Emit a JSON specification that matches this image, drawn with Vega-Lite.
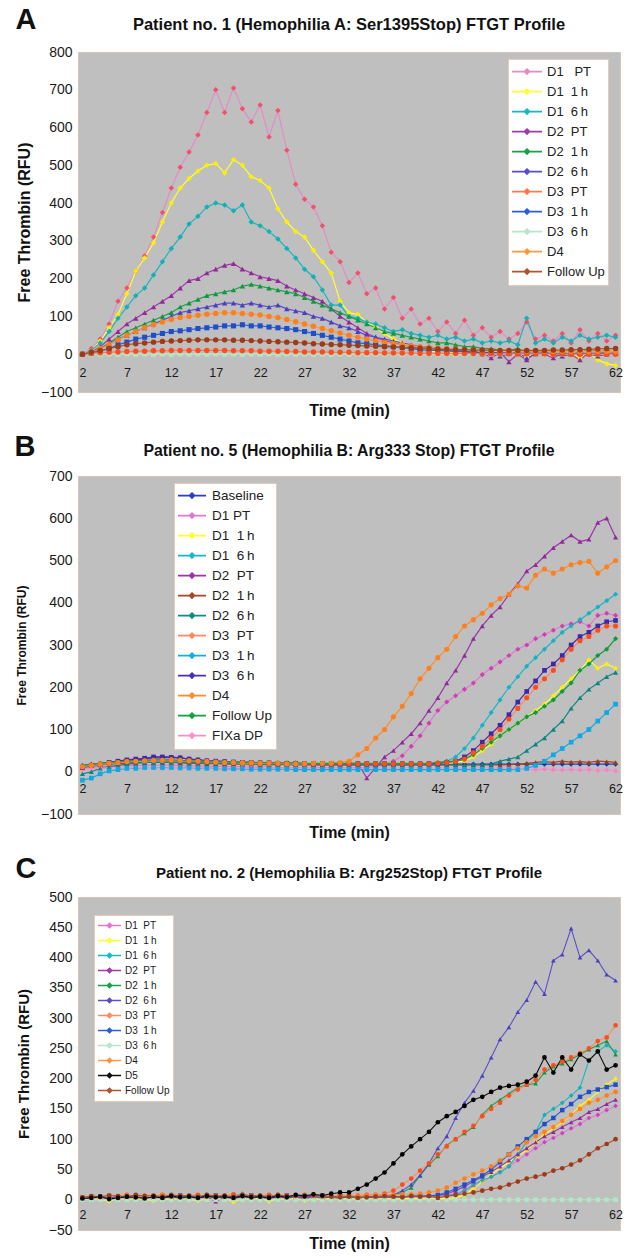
{
"$schema": "https://vega.github.io/schema/vega-lite/v6.json",
"padding": {"left": 14, "top": 5, "right": 0, "bottom": 0},
"columns": 1,
"align": "none",
"spacing": 13,
"resolve": {"scale": {"x": "independent", "y": "independent", "stroke": "independent", "fill": "independent"}, "legend": {"stroke": "independent", "fill": "independent"}},
"config": {
  "font": "Liberation Sans",
  "view": {"fill": "#bfbfbf", "stroke": "#d9c3b8", "strokeWidth": 1},
  "axis": {"grid": false, "ticks": false, "tickSize": 0, "domain": false, "labelColor": "#1a1a1a", "titleColor": "#111"},
  "title": {"color": "#111"}
},
"concat": [
{
  "title": {"text": "A", "anchor": "start", "frame": "bounds", "fontSize": 29, "fontWeight": "bold", "offset": -18.5},
  "vconcat": [{
    "width": 542, "height": 340,
    "title": {"text": "Patient no. 1 (Hemophilia A: Ser1395Stop) FTGT Profile", "fontSize": 16.5, "fontWeight": "bold", "offset": 12},
    "data": {"values": [
{"t":2,"a":0,"b":0,"c":0,"d":0,"e":0,"f":0,"g":0,"h":0,"i":0,"j":0,"k":0},
{"t":3,"a":15,"b":10,"c":10,"d":5,"e":5,"f":5,"g":2,"h":3,"i":0,"j":5,"k":5},
{"t":4,"a":40,"b":35,"c":30,"d":20,"e":15,"f":15,"g":4,"h":8,"i":0,"j":15,"k":10},
{"t":5,"a":80,"b":70,"c":60,"d":40,"e":30,"f":25,"g":5,"h":15,"i":1,"j":25,"k":15},
{"t":6,"a":140,"b":105,"c":95,"d":60,"e":45,"f":40,"g":6,"h":25,"i":0,"j":38,"k":20},
{"t":7,"a":175,"b":160,"c":125,"d":80,"e":60,"f":50,"g":7,"h":32,"i":1,"j":50,"k":25},
{"t":8,"a":220,"b":220,"c":155,"d":95,"e":70,"f":60,"g":8,"h":40,"i":0,"j":60,"k":28},
{"t":9,"a":260,"b":255,"c":175,"d":110,"e":80,"f":70,"g":8,"h":45,"i":1,"j":70,"k":30},
{"t":10,"a":310,"b":295,"c":210,"d":125,"e":90,"f":80,"g":9,"h":50,"i":0,"j":78,"k":32},
{"t":11,"a":375,"b":350,"c":245,"d":140,"e":100,"f":90,"g":9,"h":55,"i":1,"j":85,"k":34},
{"t":12,"a":440,"b":400,"c":280,"d":155,"e":110,"f":100,"g":10,"h":60,"i":0,"j":92,"k":35},
{"t":13,"a":495,"b":440,"c":310,"d":175,"e":125,"f":110,"g":10,"h":62,"i":1,"j":97,"k":36},
{"t":14,"a":535,"b":465,"c":345,"d":195,"e":135,"f":115,"g":10,"h":65,"i":0,"j":100,"k":37},
{"t":15,"a":580,"b":485,"c":365,"d":200,"e":145,"f":120,"g":10,"h":68,"i":1,"j":103,"k":38},
{"t":16,"a":640,"b":500,"c":390,"d":215,"e":155,"f":125,"g":10,"h":70,"i":0,"j":106,"k":38},
{"t":17,"a":700,"b":505,"c":400,"d":225,"e":160,"f":130,"g":10,"h":72,"i":1,"j":108,"k":38},
{"t":18,"a":640,"b":480,"c":395,"d":235,"e":165,"f":135,"g":10,"h":75,"i":0,"j":110,"k":38},
{"t":19,"a":705,"b":515,"c":380,"d":240,"e":170,"f":135,"g":9,"h":75,"i":1,"j":110,"k":37},
{"t":20,"a":650,"b":500,"c":395,"d":225,"e":180,"f":130,"g":9,"h":78,"i":0,"j":108,"k":37},
{"t":21,"a":615,"b":470,"c":350,"d":215,"e":185,"f":135,"g":9,"h":75,"i":1,"j":106,"k":36},
{"t":22,"a":660,"b":460,"c":340,"d":205,"e":180,"f":130,"g":8,"h":75,"i":0,"j":104,"k":35},
{"t":23,"a":575,"b":440,"c":325,"d":200,"e":175,"f":125,"g":8,"h":72,"i":1,"j":100,"k":34},
{"t":24,"a":645,"b":385,"c":305,"d":195,"e":170,"f":130,"g":8,"h":70,"i":0,"j":97,"k":33},
{"t":25,"a":540,"b":350,"c":280,"d":180,"e":165,"f":120,"g":7,"h":68,"i":1,"j":92,"k":32},
{"t":26,"a":450,"b":325,"c":255,"d":170,"e":160,"f":115,"g":7,"h":65,"i":0,"j":86,"k":31},
{"t":27,"a":410,"b":310,"c":225,"d":160,"e":150,"f":110,"g":6,"h":60,"i":1,"j":80,"k":30},
{"t":28,"a":390,"b":275,"c":205,"d":150,"e":140,"f":100,"g":6,"h":55,"i":0,"j":74,"k":28},
{"t":29,"a":340,"b":245,"c":170,"d":140,"e":130,"f":95,"g":6,"h":50,"i":1,"j":68,"k":27},
{"t":30,"a":270,"b":215,"c":130,"d":120,"e":120,"f":85,"g":5,"h":45,"i":0,"j":62,"k":26},
{"t":31,"a":245,"b":140,"c":130,"d":100,"e":110,"f":75,"g":5,"h":40,"i":1,"j":56,"k":25},
{"t":32,"a":190,"b":110,"c":100,"d":85,"e":100,"f":70,"g":5,"h":35,"i":0,"j":50,"k":24},
{"t":33,"a":215,"b":105,"c":95,"d":70,"e":90,"f":60,"g":4,"h":30,"i":1,"j":45,"k":23},
{"t":34,"a":160,"b":85,"c":85,"d":55,"e":80,"f":50,"g":4,"h":28,"i":0,"j":40,"k":22},
{"t":35,"a":175,"b":70,"c":80,"d":45,"e":70,"f":45,"g":4,"h":25,"i":1,"j":36,"k":21},
{"t":36,"a":120,"b":55,"c":70,"d":35,"e":60,"f":40,"g":3,"h":22,"i":0,"j":32,"k":20},
{"t":37,"a":150,"b":40,"c":60,"d":30,"e":55,"f":35,"g":3,"h":20,"i":1,"j":28,"k":19},
{"t":38,"a":95,"b":30,"c":65,"d":25,"e":50,"f":30,"g":3,"h":18,"i":0,"j":25,"k":18},
{"t":39,"a":120,"b":20,"c":55,"d":20,"e":45,"f":25,"g":3,"h":15,"i":1,"j":22,"k":17},
{"t":40,"a":80,"b":15,"c":50,"d":15,"e":40,"f":20,"g":2,"h":12,"i":0,"j":20,"k":16},
{"t":41,"a":95,"b":10,"c":45,"d":20,"e":35,"f":20,"g":2,"h":10,"i":1,"j":18,"k":15},
{"t":42,"a":60,"b":5,"c":50,"d":10,"e":30,"f":15,"g":2,"h":10,"i":0,"j":16,"k":14},
{"t":43,"a":85,"b":10,"c":40,"d":15,"e":30,"f":10,"g":2,"h":8,"i":1,"j":14,"k":13},
{"t":44,"a":55,"b":0,"c":45,"d":5,"e":25,"f":15,"g":2,"h":8,"i":0,"j":13,"k":12},
{"t":45,"a":90,"b":5,"c":35,"d":10,"e":20,"f":5,"g":2,"h":6,"i":1,"j":12,"k":12},
{"t":46,"a":50,"b":10,"c":40,"d":0,"e":20,"f":10,"g":2,"h":5,"i":0,"j":11,"k":11},
{"t":47,"a":70,"b":0,"c":30,"d":5,"e":15,"f":0,"g":1,"h":5,"i":1,"j":10,"k":11},
{"t":48,"a":45,"b":5,"c":35,"d":-10,"e":15,"f":5,"g":1,"h":4,"i":0,"j":10,"k":10},
{"t":49,"a":60,"b":-5,"c":30,"d":5,"e":10,"f":-5,"g":1,"h":4,"i":1,"j":9,"k":10},
{"t":50,"a":40,"b":5,"c":35,"d":-20,"e":10,"f":0,"g":1,"h":3,"i":0,"j":9,"k":10},
{"t":51,"a":55,"b":0,"c":25,"d":0,"e":15,"f":5,"g":1,"h":3,"i":1,"j":8,"k":10},
{"t":52,"a":85,"b":-10,"c":95,"d":-15,"e":5,"f":-10,"g":1,"h":3,"i":0,"j":8,"k":10},
{"t":53,"a":40,"b":5,"c":30,"d":5,"e":10,"f":0,"g":1,"h":2,"i":1,"j":8,"k":10},
{"t":54,"a":50,"b":0,"c":40,"d":0,"e":5,"f":5,"g":1,"h":2,"i":0,"j":8,"k":10},
{"t":55,"a":35,"b":-5,"c":30,"d":-10,"e":10,"f":0,"g":0,"h":2,"i":1,"j":7,"k":11},
{"t":56,"a":55,"b":10,"c":45,"d":5,"e":5,"f":-5,"g":0,"h":2,"i":0,"j":7,"k":11},
{"t":57,"a":30,"b":0,"c":35,"d":0,"e":10,"f":0,"g":0,"h":2,"i":1,"j":7,"k":12},
{"t":58,"a":65,"b":-10,"c":50,"d":-15,"e":5,"f":5,"g":0,"h":2,"i":0,"j":7,"k":12},
{"t":59,"a":35,"b":5,"c":40,"d":5,"e":10,"f":0,"g":0,"h":2,"i":1,"j":7,"k":13},
{"t":60,"a":55,"b":-15,"c":45,"d":10,"e":5,"f":-5,"g":0,"h":2,"i":0,"j":7,"k":14},
{"t":61,"a":35,"b":-25,"c":50,"d":0,"e":10,"f":0,"g":0,"h":2,"i":1,"j":7,"k":15},
{"t":62,"a":50,"b":-30,"c":45,"d":5,"e":5,"f":0,"g":0,"h":2,"i":0,"j":7,"k":15}
    ]},
    "transform": [
      {"fold": ["a","b","c","d","e","f","i","h","g","j","k"], "as": ["s","v"]},
      {"lookup": "s", "from": {"data": {"values": [
        {"s":"a","n":"D1\u00a0\u00a0\u00a0PT"},{"s":"b","n":"D1\u00a0\u00a01\u2009h"},{"s":"c","n":"D1\u00a0\u00a06\u2009h"},
        {"s":"d","n":"D2\u00a0\u00a0PT"},{"s":"e","n":"D2\u00a0\u00a01\u2009h"},{"s":"f","n":"D2\u00a0\u00a06\u2009h"},
        {"s":"g","n":"D3\u00a0\u00a0PT"},{"s":"h","n":"D3\u00a0\u00a01\u2009h"},{"s":"i","n":"D3\u00a0\u00a06\u2009h"},
        {"s":"j","n":"D4"},{"s":"k","n":"Follow Up"}]}, "key": "s", "fields": ["n"]}}
    ],
    "encoding": {
      "x": {"field": "t", "type": "quantitative", "scale": {"domain": [1.5, 62.5], "nice": false, "zero": false},
        "axis": {"values": [2,7,12,17,22,27,32,37,42,47,52,57,62], "format": "d", "title": "Time (min)", "offset": -37.78, "zindex": 1,
          "labelPadding": 12.5, "labelFontSize": 12.5, "labelFlush": false, "labelOverlap": false, "labelBound": false,
          "titleFontSize": 16, "titleFontWeight": "bold", "titlePadding": 22.8}},
      "y": {"field": "v", "type": "quantitative", "scale": {"domain": [-100, 800], "nice": false},
        "axis": {"values": [-100,0,100,200,300,400,500,600,700,800], "labelPadding": 6, "labelFontSize": 14, "minExtent": 34, "maxExtent": 34,
          "title": "Free Thrombin (RFU)", "titleFontSize": 16, "titleFontWeight": "bold", "titlePadding": 12}}
    },
    "layer": [
      {"mark": {"type": "line", "strokeWidth": 1.2},
       "encoding": {"stroke": {"field": "n", "type": "nominal",
         "scale": {"domain": ["D1\u00a0\u00a0\u00a0PT","D1\u00a0\u00a01\u2009h","D1\u00a0\u00a06\u2009h","D2\u00a0\u00a0PT","D2\u00a0\u00a01\u2009h","D2\u00a0\u00a06\u2009h","D3\u00a0\u00a0PT","D3\u00a0\u00a01\u2009h","D3\u00a0\u00a06\u2009h","D4","Follow Up"],
                   "range": ["#e58bc6","#ffff33","#1bb5bd","#a03aa8","#1aa04a","#5a4fc8","#ff7a4c","#2a5fd6","#b9e6c9","#ff9a3c","#b0542e"]},
         "legend": {"title": null, "orient": "none", "legendX": 430, "legendY": 7, "fillColor": "white", "strokeColor": "#e3cabd", "padding": 3,
           "labelFontSize": 13, "labelColor": "#222", "symbolType": "M-1,0H1M0,-0.17L0.17,0L0,0.17L-0.17,0Z", "symbolSize": 900,
           "symbolStrokeWidth": 1.6, "labelOffset": 4, "clipHeight": 19.2, "rowPadding": 0, "labelLimit": 200}}}},
      {"transform": [{"filter": {"field": "s", "oneOf": ["a","b","c"]}}],
       "mark": {"type": "point", "shape": "diamond", "filled": true, "size": 30, "opacity": 1, "strokeWidth": 0},
       "encoding": {"fill": {"field": "n", "type": "nominal", "legend": null,
           "scale": {"domain": ["D1\u00a0\u00a0\u00a0PT","D1\u00a0\u00a01\u2009h","D1\u00a0\u00a06\u2009h","D2\u00a0\u00a0PT","D2\u00a0\u00a01\u2009h","D2\u00a0\u00a06\u2009h","D3\u00a0\u00a0PT","D3\u00a0\u00a01\u2009h","D3\u00a0\u00a06\u2009h","D4","Follow Up"],
                     "range": ["#f2506a","#ffee00","#12b0b8","#93279b","#0c9a40","#4b3fc0","#ff4b1f","#1f4fc8","#b0e8c4","#ff7f1f","#9c3a1a"]}}}},
      {"transform": [{"filter": {"field": "s", "oneOf": ["d","e","f"]}}],
       "mark": {"type": "point", "shape": "triangle-up", "filled": true, "size": 30, "opacity": 1, "strokeWidth": 0},
       "encoding": {"fill": {"field": "n", "type": "nominal", "legend": null}}},
      {"transform": [{"filter": {"field": "s", "oneOf": ["h","i"]}}],
       "mark": {"type": "point", "shape": "square", "filled": true, "size": 26, "opacity": 1, "strokeWidth": 0},
       "encoding": {"fill": {"field": "n", "type": "nominal", "legend": null}}},
      {"transform": [{"filter": {"field": "s", "oneOf": ["g","j","k"]}}],
       "mark": {"type": "point", "shape": "circle", "filled": true, "size": 30, "opacity": 1, "strokeWidth": 0},
       "encoding": {"fill": {"field": "n", "type": "nominal", "legend": null}}}
    ]
  }]
},
{
  "title": {"text": "B", "anchor": "start", "frame": "bounds", "fontSize": 29, "fontWeight": "bold", "offset": -19},
  "vconcat": [{
    "width": 542, "height": 338,
    "title": {"text": "Patient no. 5 (Hemophilia B: Arg333 Stop) FTGT Profile", "fontSize": 15.8, "fontWeight": "bold", "offset": 9},
    "data": {"values": [
{"t":2,"a":10,"b":8,"c":12,"d":10,"e":15,"f":12,"g":-5,"h":12,"i":-20,"j":10,"k":12,"l":15,"m":5},
{"t":3,"a":15,"b":10,"c":15,"d":12,"e":18,"f":15,"g":0,"h":15,"i":-15,"j":15,"k":15,"l":18,"m":8},
{"t":4,"a":18,"b":12,"c":18,"d":15,"e":20,"f":18,"g":8,"h":18,"i":-5,"j":18,"k":18,"l":20,"m":8},
{"t":5,"a":20,"b":12,"c":20,"d":18,"e":22,"f":18,"g":12,"h":20,"i":2,"j":22,"k":20,"l":22,"m":10},
{"t":6,"a":22,"b":14,"c":22,"d":20,"e":25,"f":20,"g":15,"h":22,"i":5,"j":25,"k":22,"l":24,"m":10},
{"t":7,"a":25,"b":15,"c":24,"d":22,"e":28,"f":20,"g":18,"h":24,"i":8,"j":28,"k":24,"l":25,"m":8},
{"t":8,"a":28,"b":15,"c":25,"d":24,"e":30,"f":22,"g":20,"h":25,"i":8,"j":30,"k":25,"l":26,"m":10},
{"t":9,"a":30,"b":16,"c":26,"d":25,"e":32,"f":22,"g":22,"h":26,"i":10,"j":32,"k":26,"l":27,"m":9},
{"t":10,"a":32,"b":15,"c":27,"d":26,"e":34,"f":22,"g":22,"h":27,"i":10,"j":35,"k":27,"l":28,"m":10},
{"t":11,"a":33,"b":16,"c":27,"d":26,"e":35,"f":22,"g":23,"h":27,"i":10,"j":35,"k":27,"l":28,"m":8},
{"t":12,"a":34,"b":15,"c":28,"d":27,"e":35,"f":22,"g":23,"h":28,"i":10,"j":34,"k":28,"l":28,"m":10},
{"t":13,"a":33,"b":15,"c":28,"d":26,"e":33,"f":21,"g":23,"h":27,"i":9,"j":33,"k":27,"l":27,"m":9},
{"t":14,"a":30,"b":14,"c":27,"d":25,"e":30,"f":20,"g":22,"h":26,"i":9,"j":30,"k":26,"l":26,"m":8},
{"t":15,"a":28,"b":14,"c":26,"d":24,"e":28,"f":20,"g":21,"h":25,"i":8,"j":28,"k":25,"l":25,"m":10},
{"t":16,"a":26,"b":13,"c":25,"d":23,"e":26,"f":19,"g":21,"h":24,"i":8,"j":26,"k":24,"l":24,"m":8},
{"t":17,"a":25,"b":13,"c":24,"d":22,"e":25,"f":19,"g":20,"h":23,"i":8,"j":25,"k":23,"l":24,"m":9},
{"t":18,"a":24,"b":12,"c":24,"d":22,"e":24,"f":18,"g":20,"h":22,"i":7,"j":24,"k":22,"l":23,"m":8},
{"t":19,"a":23,"b":12,"c":23,"d":21,"e":23,"f":18,"g":20,"h":22,"i":7,"j":23,"k":22,"l":23,"m":10},
{"t":20,"a":22,"b":12,"c":23,"d":21,"e":22,"f":18,"g":19,"h":21,"i":7,"j":22,"k":21,"l":22,"m":8},
{"t":21,"a":22,"b":11,"c":22,"d":20,"e":22,"f":18,"g":19,"h":21,"i":6,"j":22,"k":21,"l":22,"m":9},
{"t":22,"a":21,"b":11,"c":22,"d":20,"e":21,"f":17,"g":18,"h":20,"i":6,"j":21,"k":20,"l":22,"m":8},
{"t":23,"a":21,"b":11,"c":21,"d":20,"e":21,"f":17,"g":18,"h":20,"i":6,"j":21,"k":20,"l":21,"m":10},
{"t":24,"a":20,"b":10,"c":21,"d":19,"e":20,"f":17,"g":18,"h":20,"i":6,"j":20,"k":20,"l":21,"m":8},
{"t":25,"a":20,"b":10,"c":21,"d":19,"e":20,"f":17,"g":17,"h":19,"i":6,"j":20,"k":19,"l":21,"m":9},
{"t":26,"a":20,"b":10,"c":20,"d":19,"e":20,"f":17,"g":17,"h":19,"i":5,"j":20,"k":19,"l":21,"m":8},
{"t":27,"a":19,"b":10,"c":20,"d":18,"e":19,"f":16,"g":17,"h":19,"i":5,"j":19,"k":19,"l":20,"m":10},
{"t":28,"a":19,"b":10,"c":20,"d":18,"e":19,"f":16,"g":17,"h":19,"i":5,"j":19,"k":20,"l":20,"m":8},
{"t":29,"a":19,"b":10,"c":20,"d":18,"e":19,"f":16,"g":16,"h":19,"i":5,"j":19,"k":20,"l":20,"m":9},
{"t":30,"a":19,"b":10,"c":20,"d":18,"e":18,"f":16,"g":16,"h":19,"i":5,"j":19,"k":20,"l":20,"m":8},
{"t":31,"a":18,"b":10,"c":20,"d":18,"e":18,"f":16,"g":16,"h":19,"i":5,"j":19,"k":22,"l":20,"m":10},
{"t":32,"a":18,"b":10,"c":20,"d":18,"e":20,"f":16,"g":16,"h":19,"i":5,"j":19,"k":25,"l":20,"m":8},
{"t":33,"a":18,"b":10,"c":20,"d":18,"e":20,"f":16,"g":16,"h":19,"i":5,"j":19,"k":40,"l":20,"m":9},
{"t":34,"a":18,"b":10,"c":20,"d":18,"e":-15,"f":16,"g":16,"h":19,"i":5,"j":19,"k":55,"l":20,"m":8},
{"t":35,"a":18,"b":12,"c":20,"d":18,"e":10,"f":16,"g":16,"h":19,"i":5,"j":19,"k":80,"l":20,"m":10},
{"t":36,"a":18,"b":18,"c":20,"d":18,"e":35,"f":16,"g":16,"h":19,"i":5,"j":19,"k":100,"l":20,"m":8},
{"t":37,"a":18,"b":25,"c":20,"d":18,"e":50,"f":16,"g":16,"h":19,"i":5,"j":19,"k":130,"l":20,"m":9},
{"t":38,"a":18,"b":38,"c":20,"d":18,"e":70,"f":16,"g":16,"h":19,"i":5,"j":19,"k":155,"l":20,"m":8},
{"t":39,"a":18,"b":60,"c":20,"d":18,"e":90,"f":16,"g":16,"h":19,"i":5,"j":19,"k":185,"l":20,"m":10},
{"t":40,"a":18,"b":85,"c":20,"d":18,"e":115,"f":16,"g":16,"h":19,"i":5,"j":19,"k":220,"l":20,"m":8},
{"t":41,"a":18,"b":115,"c":20,"d":18,"e":145,"f":16,"g":16,"h":19,"i":5,"j":19,"k":245,"l":20,"m":9},
{"t":42,"a":18,"b":145,"c":20,"d":18,"e":175,"f":16,"g":16,"h":20,"i":5,"j":19,"k":270,"l":22,"m":8},
{"t":43,"a":18,"b":165,"c":20,"d":25,"e":210,"f":16,"g":16,"h":22,"i":5,"j":22,"k":290,"l":24,"m":10},
{"t":44,"a":18,"b":180,"c":22,"d":35,"e":240,"f":16,"g":16,"h":25,"i":5,"j":25,"k":320,"l":25,"m":8},
{"t":45,"a":18,"b":195,"c":25,"d":55,"e":275,"f":16,"g":16,"h":30,"i":5,"j":35,"k":345,"l":30,"m":9},
{"t":46,"a":18,"b":210,"c":35,"d":80,"e":315,"f":16,"g":17,"h":45,"i":5,"j":50,"k":360,"l":40,"m":8},
{"t":47,"a":18,"b":230,"c":50,"d":110,"e":345,"f":16,"g":17,"h":60,"i":5,"j":70,"k":375,"l":55,"m":10},
{"t":48,"a":18,"b":245,"c":65,"d":140,"e":370,"f":16,"g":18,"h":80,"i":5,"j":90,"k":395,"l":70,"m":8},
{"t":49,"a":18,"b":260,"c":85,"d":170,"e":390,"f":16,"g":25,"h":100,"i":5,"j":110,"k":410,"l":85,"m":9},
{"t":50,"a":18,"b":275,"c":100,"d":200,"e":420,"f":17,"g":30,"h":125,"i":5,"j":135,"k":420,"l":100,"m":8},
{"t":51,"a":18,"b":290,"c":115,"d":225,"e":445,"f":18,"g":35,"h":150,"i":5,"j":165,"k":440,"l":115,"m":7},
{"t":52,"a":18,"b":300,"c":130,"d":250,"e":475,"f":20,"g":50,"h":175,"i":8,"j":190,"k":435,"l":130,"m":6},
{"t":53,"a":18,"b":315,"c":145,"d":270,"e":490,"f":22,"g":65,"h":200,"i":15,"j":215,"k":465,"l":140,"m":5},
{"t":54,"a":18,"b":325,"c":160,"d":290,"e":510,"f":24,"g":80,"h":220,"i":25,"j":240,"k":480,"l":155,"m":6},
{"t":55,"a":18,"b":335,"c":180,"d":310,"e":530,"f":22,"g":100,"h":240,"i":40,"j":255,"k":470,"l":170,"m":5},
{"t":56,"a":18,"b":345,"c":200,"d":330,"e":545,"f":25,"g":120,"h":265,"i":55,"j":275,"k":480,"l":190,"m":4},
{"t":57,"a":18,"b":350,"c":220,"d":345,"e":560,"f":23,"g":150,"h":290,"i":70,"j":300,"k":490,"l":210,"m":5},
{"t":58,"a":18,"b":355,"c":240,"d":360,"e":545,"f":24,"g":175,"h":310,"i":85,"j":320,"k":495,"l":240,"m":4},
{"t":59,"a":18,"b":345,"c":265,"d":375,"e":550,"f":22,"g":195,"h":320,"i":100,"j":330,"k":498,"l":255,"m":5},
{"t":60,"a":18,"b":370,"c":245,"d":390,"e":590,"f":25,"g":210,"h":335,"i":120,"j":345,"k":470,"l":275,"m":3},
{"t":61,"a":18,"b":375,"c":255,"d":405,"e":600,"f":24,"g":225,"h":345,"i":140,"j":355,"k":485,"l":290,"m":4},
{"t":62,"a":18,"b":370,"c":245,"d":420,"e":555,"f":22,"g":235,"h":345,"i":160,"j":358,"k":500,"l":315,"m":2}
    ]},
    "transform": [
      {"fold": ["a","b","c","d","e","f","g","h","i","j","k","l","m"], "as": ["s","v"]},
      {"lookup": "s", "from": {"data": {"values": [
        {"s":"a","n":"Baseline"},{"s":"b","n":"D1 PT"},{"s":"c","n":"D1\u00a0\u00a01\u2009h"},{"s":"d","n":"D1\u00a0\u00a06\u2009h"},
        {"s":"e","n":"D2\u00a0\u00a0PT"},{"s":"f","n":"D2\u00a0\u00a01\u2009h"},{"s":"g","n":"D2\u00a0\u00a06\u2009h"},
        {"s":"h","n":"D3\u00a0\u00a0PT"},{"s":"i","n":"D3\u00a0\u00a01\u2009h"},{"s":"j","n":"D3\u00a0\u00a06\u2009h"},
        {"s":"k","n":"D4"},{"s":"l","n":"Follow Up"},{"s":"m","n":"FIXa DP"}]}, "key": "s", "fields": ["n"]}}
    ],
    "encoding": {
      "x": {"field": "t", "type": "quantitative", "scale": {"domain": [1.5, 62.5], "nice": false, "zero": false},
        "axis": {"values": [2,7,12,17,22,27,32,37,42,47,52,57,62], "format": "d", "title": "Time (min)", "offset": -42.25, "zindex": 1,
          "labelPadding": 11, "labelFontSize": 12.5, "labelFlush": false, "labelOverlap": false, "labelBound": false,
          "titleFontSize": 16, "titleFontWeight": "bold", "titlePadding": 28.75}},
      "y": {"field": "v", "type": "quantitative", "scale": {"domain": [-100, 700], "nice": false},
        "axis": {"values": [-100,0,100,200,300,400,500,600,700], "labelPadding": 6, "labelFontSize": 14, "minExtent": 34, "maxExtent": 34,
          "title": "Free Thrombin (RFU)", "titleFontSize": 12, "titleFontWeight": "bold", "titlePadding": 16}}
    },
    "layer": [
      {"mark": {"type": "line", "strokeWidth": 1.2},
       "encoding": {"stroke": {"field": "n", "type": "nominal",
         "scale": {"domain": ["Baseline","D1 PT","D1\u00a0\u00a01\u2009h","D1\u00a0\u00a06\u2009h","D2\u00a0\u00a0PT","D2\u00a0\u00a01\u2009h","D2\u00a0\u00a06\u2009h","D3\u00a0\u00a0PT","D3\u00a0\u00a01\u2009h","D3\u00a0\u00a06\u2009h","D4","Follow Up","FIXa DP"],
                   "range": ["#2a3fc0","#e07ad0","#ffff33","#18b8c8","#9a35a8","#a8471f","#0f8a86","#ff8c60","#12aee6","#4a2fb0","#ff8c2a","#0fa040","#ff8ccc"]},
         "legend": {"title": null, "orient": "none", "legendX": 96, "legendY": 7, "fillColor": "white", "strokeColor": "#e3cabd", "padding": 3,
           "labelFontSize": 13.5, "labelColor": "#222", "symbolType": "M-1,0H1M0,-0.18L0.18,0L0,0.18L-0.18,0Z", "symbolSize": 784,
           "symbolStrokeWidth": 1.6, "labelOffset": 5, "clipHeight": 19.2, "rowPadding": 0, "labelLimit": 200}}}},
      {"transform": [{"filter": {"field": "s", "oneOf": ["a","b","c","d","l","m"]}}],
       "mark": {"type": "point", "shape": "diamond", "filled": true, "size": 26, "opacity": 1, "strokeWidth": 0},
       "encoding": {"fill": {"field": "n", "type": "nominal", "legend": null,
           "scale": {"domain": ["Baseline","D1 PT","D1\u00a0\u00a01\u2009h","D1\u00a0\u00a06\u2009h","D2\u00a0\u00a0PT","D2\u00a0\u00a01\u2009h","D2\u00a0\u00a06\u2009h","D3\u00a0\u00a0PT","D3\u00a0\u00a01\u2009h","D3\u00a0\u00a06\u2009h","D4","Follow Up","FIXa DP"],
                     "range": ["#1d33b5","#d23cb4","#ffee00","#12b4c4","#93279b","#9c3a1a","#0c8480","#ff4d1a","#0ea8e4","#3f28a8","#ff8020","#0c9a3c","#ff80c4"]}}}},
      {"transform": [{"filter": {"field": "s", "oneOf": ["e","f","g"]}}],
       "mark": {"type": "point", "shape": "triangle-up", "filled": true, "size": 26, "opacity": 1, "strokeWidth": 0},
       "encoding": {"fill": {"field": "n", "type": "nominal", "legend": null}}},
      {"transform": [{"filter": {"field": "s", "oneOf": ["i","j"]}}],
       "mark": {"type": "point", "shape": "square", "filled": true, "size": 22, "opacity": 1, "strokeWidth": 0},
       "encoding": {"fill": {"field": "n", "type": "nominal", "legend": null}}},
      {"transform": [{"filter": {"field": "s", "oneOf": ["h","k"]}}],
       "mark": {"type": "point", "shape": "circle", "filled": true, "size": 26, "opacity": 1, "strokeWidth": 0},
       "encoding": {"fill": {"field": "n", "type": "nominal", "legend": null}}}
    ]
  }]
},
{
  "title": {"text": "C", "anchor": "start", "frame": "bounds", "fontSize": 29, "fontWeight": "bold", "offset": -18},
  "vconcat": [{
    "width": 542, "height": 333,
    "title": {"text": "Patient no. 2 (Hemophilia B: Arg252Stop) FTGT Profile", "fontSize": 15, "fontWeight": "bold", "offset": 9},
    "data": {"values": [
{"t":2,"a":2,"b":0,"c":3,"d":2,"e":3,"f":2,"g":4,"h":3,"i":0,"j":3,"k":2,"l":4},
{"t":3,"a":4,"b":2,"c":5,"d":3,"e":4,"f":3,"g":6,"h":4,"i":0,"j":5,"k":3,"l":6},
{"t":4,"a":3,"b":1,"c":4,"d":5,"e":3,"f":4,"g":5,"h":5,"i":0,"j":4,"k":5,"l":5},
{"t":5,"a":5,"b":-3,"c":6,"d":2,"e":5,"f":3,"g":7,"h":6,"i":0,"j":6,"k":1,"l":7},
{"t":6,"a":3,"b":2,"c":4,"d":4,"e":4,"f":5,"g":6,"h":4,"i":0,"j":5,"k":3,"l":6},
{"t":7,"a":4,"b":0,"c":5,"d":3,"e":6,"f":4,"g":8,"h":5,"i":0,"j":7,"k":5,"l":5},
{"t":8,"a":2,"b":3,"c":3,"d":5,"e":4,"f":3,"g":5,"h":6,"i":0,"j":4,"k":4,"l":8},
{"t":9,"a":5,"b":1,"c":6,"d":2,"e":5,"f":5,"g":7,"h":4,"i":0,"j":6,"k":2,"l":6},
{"t":10,"a":3,"b":-2,"c":4,"d":6,"e":3,"f":4,"g":6,"h":5,"i":0,"j":5,"k":5,"l":7},
{"t":11,"a":6,"b":2,"c":5,"d":3,"e":6,"f":3,"g":8,"h":6,"i":0,"j":8,"k":3,"l":5},
{"t":12,"a":4,"b":0,"c":7,"d":5,"e":4,"f":5,"g":5,"h":4,"i":0,"j":6,"k":6,"l":8},
{"t":13,"a":3,"b":3,"c":4,"d":2,"e":5,"f":4,"g":7,"h":7,"i":0,"j":5,"k":4,"l":6},
{"t":14,"a":5,"b":1,"c":6,"d":4,"e":3,"f":5,"g":6,"h":5,"i":0,"j":7,"k":5,"l":7},
{"t":15,"a":2,"b":-2,"c":5,"d":3,"e":6,"f":3,"g":8,"h":6,"i":0,"j":6,"k":3,"l":5},
{"t":16,"a":6,"b":2,"c":8,"d":5,"e":4,"f":6,"g":5,"h":5,"i":0,"j":8,"k":6,"l":8},
{"t":17,"a":4,"b":0,"c":5,"d":-3,"e":5,"f":4,"g":7,"h":7,"i":0,"j":5,"k":4,"l":6},
{"t":18,"a":3,"b":3,"c":7,"d":4,"e":6,"f":5,"g":6,"h":4,"i":0,"j":7,"k":5,"l":7},
{"t":19,"a":5,"b":-4,"c":6,"d":2,"e":4,"f":3,"g":9,"h":6,"i":0,"j":6,"k":3,"l":5},
{"t":20,"a":4,"b":2,"c":10,"d":5,"e":5,"f":6,"g":6,"h":5,"i":0,"j":8,"k":6,"l":8},
{"t":21,"a":6,"b":0,"c":5,"d":3,"e":6,"f":4,"g":7,"h":7,"i":0,"j":5,"k":4,"l":6},
{"t":22,"a":3,"b":3,"c":7,"d":4,"e":4,"f":5,"g":6,"h":4,"i":0,"j":7,"k":5,"l":7},
{"t":23,"a":5,"b":-3,"c":4,"d":2,"e":5,"f":3,"g":8,"h":6,"i":0,"j":6,"k":3,"l":5},
{"t":24,"a":4,"b":2,"c":6,"d":5,"e":6,"f":6,"g":6,"h":5,"i":0,"j":8,"k":6,"l":8},
{"t":25,"a":6,"b":0,"c":5,"d":3,"e":5,"f":4,"g":7,"h":7,"i":0,"j":5,"k":4,"l":6},
{"t":26,"a":3,"b":3,"c":7,"d":4,"e":4,"f":5,"g":6,"h":4,"i":0,"j":7,"k":8,"l":7},
{"t":27,"a":5,"b":-2,"c":8,"d":2,"e":6,"f":3,"g":8,"h":6,"i":0,"j":6,"k":6,"l":5},
{"t":28,"a":4,"b":2,"c":6,"d":5,"e":5,"f":6,"g":6,"h":5,"i":0,"j":8,"k":9,"l":8},
{"t":29,"a":6,"b":0,"c":7,"d":3,"e":4,"f":4,"g":7,"h":7,"i":0,"j":5,"k":7,"l":6},
{"t":30,"a":3,"b":3,"c":5,"d":4,"e":6,"f":5,"g":6,"h":4,"i":0,"j":7,"k":10,"l":5},
{"t":31,"a":5,"b":1,"c":6,"d":2,"e":5,"f":3,"g":8,"h":6,"i":0,"j":6,"k":12,"l":4},
{"t":32,"a":4,"b":2,"c":5,"d":5,"e":4,"f":6,"g":6,"h":5,"i":0,"j":8,"k":12,"l":5},
{"t":33,"a":5,"b":0,"c":6,"d":3,"e":5,"f":4,"g":7,"h":4,"i":0,"j":6,"k":18,"l":3},
{"t":34,"a":3,"b":3,"c":5,"d":4,"e":6,"f":5,"g":8,"h":5,"i":0,"j":7,"k":25,"l":4},
{"t":35,"a":4,"b":2,"c":6,"d":3,"e":5,"f":6,"g":8,"h":5,"i":0,"j":8,"k":35,"l":5},
{"t":36,"a":4,"b":2,"c":5,"d":4,"e":6,"f":6,"g":10,"h":4,"i":0,"j":8,"k":45,"l":6},
{"t":37,"a":4,"b":1,"c":6,"d":4,"e":8,"f":8,"g":15,"h":5,"i":0,"j":8,"k":60,"l":5},
{"t":38,"a":5,"b":2,"c":5,"d":5,"e":12,"f":15,"g":25,"h":5,"i":0,"j":9,"k":75,"l":4},
{"t":39,"a":5,"b":2,"c":6,"d":5,"e":20,"f":25,"g":35,"h":6,"i":0,"j":9,"k":88,"l":6},
{"t":40,"a":5,"b":1,"c":6,"d":6,"e":40,"f":40,"g":48,"h":6,"i":0,"j":10,"k":100,"l":5},
{"t":41,"a":5,"b":2,"c":6,"d":6,"e":58,"f":60,"g":60,"h":6,"i":0,"j":12,"k":112,"l":6},
{"t":42,"a":6,"b":2,"c":7,"d":7,"e":72,"f":85,"g":75,"h":8,"i":0,"j":15,"k":128,"l":3},
{"t":43,"a":8,"b":2,"c":8,"d":10,"e":90,"f":105,"g":88,"h":12,"i":0,"j":20,"k":138,"l":6},
{"t":44,"a":10,"b":3,"c":8,"d":15,"e":100,"f":135,"g":100,"h":18,"i":0,"j":28,"k":145,"l":8},
{"t":45,"a":15,"b":8,"c":15,"d":22,"e":110,"f":160,"g":112,"h":25,"i":0,"j":35,"k":155,"l":10},
{"t":46,"a":22,"b":18,"c":25,"d":30,"e":120,"f":180,"g":122,"h":32,"i":0,"j":42,"k":165,"l":12},
{"t":47,"a":30,"b":30,"c":32,"d":38,"e":140,"f":205,"g":138,"h":40,"i":0,"j":48,"k":170,"l":15},
{"t":48,"a":38,"b":42,"c":38,"d":46,"e":155,"f":235,"g":150,"h":50,"i":0,"j":55,"k":178,"l":18},
{"t":49,"a":46,"b":52,"c":45,"d":55,"e":165,"f":265,"g":160,"h":62,"i":0,"j":65,"k":185,"l":20},
{"t":50,"a":55,"b":62,"c":55,"d":65,"e":175,"f":285,"g":172,"h":75,"i":0,"j":75,"k":188,"l":25},
{"t":51,"a":65,"b":72,"c":75,"d":75,"e":185,"f":310,"g":182,"h":88,"i":0,"j":85,"k":190,"l":30},
{"t":52,"a":75,"b":82,"c":95,"d":85,"e":190,"f":330,"g":190,"h":100,"i":0,"j":95,"k":195,"l":35},
{"t":53,"a":85,"b":95,"c":112,"d":95,"e":192,"f":360,"g":198,"h":112,"i":0,"j":105,"k":205,"l":38},
{"t":54,"a":95,"b":108,"c":140,"d":105,"e":210,"f":340,"g":215,"h":125,"i":0,"j":112,"k":235,"l":42},
{"t":55,"a":102,"b":118,"c":150,"d":112,"e":220,"f":395,"g":222,"h":135,"i":0,"j":120,"k":210,"l":48},
{"t":56,"a":110,"b":128,"c":160,"d":120,"e":225,"f":405,"g":228,"h":148,"i":0,"j":130,"k":235,"l":52},
{"t":57,"a":118,"b":140,"c":172,"d":128,"e":232,"f":448,"g":235,"h":158,"i":0,"j":140,"k":215,"l":58},
{"t":58,"a":125,"b":155,"c":185,"d":135,"e":240,"f":400,"g":242,"h":170,"i":0,"j":150,"k":240,"l":65},
{"t":59,"a":135,"b":165,"c":230,"d":145,"e":248,"f":412,"g":250,"h":178,"i":0,"j":160,"k":230,"l":75},
{"t":60,"a":140,"b":178,"c":245,"d":150,"e":255,"f":395,"g":262,"h":182,"i":0,"j":165,"k":245,"l":85},
{"t":61,"a":148,"b":190,"c":255,"d":158,"e":262,"f":372,"g":268,"h":186,"i":0,"j":172,"k":215,"l":92},
{"t":62,"a":155,"b":200,"c":245,"d":165,"e":240,"f":362,"g":288,"h":190,"i":0,"j":178,"k":222,"l":100}
    ]},
    "transform": [
      {"fold": ["a","b","c","d","e","f","g","h","i","j","l","k"], "as": ["s","v"]},
      {"lookup": "s", "from": {"data": {"values": [
        {"s":"a","n":"D1\u00a0\u00a0PT"},{"s":"b","n":"D1\u00a0\u00a01\u2009h"},{"s":"c","n":"D1\u00a0\u00a06\u2009h"},
        {"s":"d","n":"D2\u00a0\u00a0PT"},{"s":"e","n":"D2\u00a0\u00a01\u2009h"},{"s":"f","n":"D2\u00a0\u00a06\u2009h"},
        {"s":"g","n":"D3\u00a0\u00a0PT"},{"s":"h","n":"D3\u00a0\u00a01\u2009h"},{"s":"i","n":"D3\u00a0\u00a06\u2009h"},
        {"s":"j","n":"D4"},{"s":"k","n":"D5"},{"s":"l","n":"Follow Up"}]}, "key": "s", "fields": ["n"]}}
    ],
    "encoding": {
      "x": {"field": "t", "type": "quantitative", "scale": {"domain": [1.5, 62.5], "nice": false, "zero": false},
        "axis": {"values": [2,7,12,17,22,27,32,37,42,47,52,57,62], "format": "d", "title": "Time (min)", "offset": -30.27, "zindex": 1,
          "labelPadding": 9, "labelFontSize": 12.5, "labelFlush": false, "labelOverlap": false, "labelBound": false,
          "titleFontSize": 16, "titleFontWeight": "bold", "titlePadding": 14}},
      "y": {"field": "v", "type": "quantitative", "scale": {"domain": [-50, 500], "nice": false},
        "axis": {"values": [-50,0,50,100,150,200,250,300,350,400,450,500], "labelPadding": 6, "labelFontSize": 14, "minExtent": 34, "maxExtent": 34,
          "title": "Free Thrombin (RFU)", "titleFontSize": 15, "titleFontWeight": "bold", "titlePadding": 13}}
    },
    "layer": [
      {"mark": {"type": "line", "strokeWidth": 1.1},
       "encoding": {"stroke": {"field": "n", "type": "nominal",
         "scale": {"domain": ["D1\u00a0\u00a0PT","D1\u00a0\u00a01\u2009h","D1\u00a0\u00a06\u2009h","D2\u00a0\u00a0PT","D2\u00a0\u00a01\u2009h","D2\u00a0\u00a06\u2009h","D3\u00a0\u00a0PT","D3\u00a0\u00a01\u2009h","D3\u00a0\u00a06\u2009h","D4","D5","Follow Up"],
                   "range": ["#e07ad0","#ffff33","#18b8c8","#a03aa8","#1aa04a","#5a50c8","#ff8a5c","#2a5fd6","#b9e6c9","#ff9a3c","#111111","#b0542e"]},
         "legend": {"title": null, "orient": "none", "legendX": 16, "legendY": 18, "fillColor": "white", "strokeColor": "#e3cabd", "padding": 3,
           "labelFontSize": 10, "labelColor": "#222", "symbolType": "M-1,0H1M0,-0.2L0.2,0L0,0.2L-0.2,0Z", "symbolSize": 529,
           "symbolStrokeWidth": 1.5, "labelOffset": 3, "clipHeight": 15, "rowPadding": 0, "labelLimit": 200}}}},
      {"transform": [{"filter": {"field": "s", "oneOf": ["a","b","c"]}}],
       "mark": {"type": "point", "shape": "diamond", "filled": true, "size": 22, "opacity": 1, "strokeWidth": 0},
       "encoding": {"fill": {"field": "n", "type": "nominal", "legend": null,
           "scale": {"domain": ["D1\u00a0\u00a0PT","D1\u00a0\u00a01\u2009h","D1\u00a0\u00a06\u2009h","D2\u00a0\u00a0PT","D2\u00a0\u00a01\u2009h","D2\u00a0\u00a06\u2009h","D3\u00a0\u00a0PT","D3\u00a0\u00a01\u2009h","D3\u00a0\u00a06\u2009h","D4","D5","Follow Up"],
                     "range": ["#d040c0","#ffee00","#12b0b8","#93279b","#0c9a40","#4b3fc0","#ff4b1f","#1f4fc8","#b0e8c4","#ff7f1f","#000000","#9c3a1a"]}}}},
      {"transform": [{"filter": {"field": "s", "oneOf": ["d","e","f"]}}],
       "mark": {"type": "point", "shape": "triangle-up", "filled": true, "size": 22, "opacity": 1, "strokeWidth": 0},
       "encoding": {"fill": {"field": "n", "type": "nominal", "legend": null}}},
      {"transform": [{"filter": {"field": "s", "oneOf": ["h","i"]}}],
       "mark": {"type": "point", "shape": "square", "filled": true, "size": 20, "opacity": 1, "strokeWidth": 0},
       "encoding": {"fill": {"field": "n", "type": "nominal", "legend": null}}},
      {"transform": [{"filter": {"field": "s", "oneOf": ["g","j","l","k"]}}],
       "mark": {"type": "point", "shape": "circle", "filled": true, "size": 22, "opacity": 1, "strokeWidth": 0},
       "encoding": {"fill": {"field": "n", "type": "nominal", "legend": null}}}
    ]
  }]
}
]
}
